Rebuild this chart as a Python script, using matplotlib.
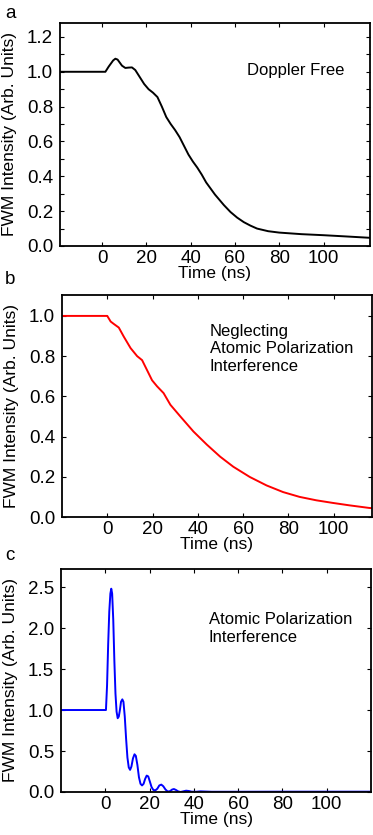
import matplotlib
matplotlib.use('Agg')
import matplotlib.pyplot as plt
from matplotlib.ticker import MultipleLocator, FormatStrFormatter

plt.rcParams['font.family'] = ['Liberation Sans', 'DejaVu Sans']

# panel a: Doppler free (black)
t_a = [-20, 0, 1.5, 3, 5, 6, 7, 9, 10.5, 12, 13.5, 15, 17, 19, 21, 23, 25, 27, 29,
       31, 33, 35, 37, 39, 41, 43, 45, 47, 49, 51, 53, 55, 58, 61, 64, 67, 70, 75,
       80, 90, 100, 110, 121]
i_a = [1.0, 1.0, 1.0, 1.03, 1.065, 1.075, 1.07, 1.035, 1.022, 1.024, 1.025, 1.01,
       0.97, 0.93, 0.9, 0.88, 0.855, 0.8, 0.74, 0.7, 0.665, 0.625, 0.575, 0.525,
       0.485, 0.45, 0.41, 0.365, 0.33, 0.295, 0.265, 0.235, 0.195, 0.163, 0.137, 0.117,
       0.1, 0.085, 0.077, 0.068, 0.062, 0.055, 0.047]

# panel b: neglecting atomic polarization interference (red)
t_b = [-20, 0, 1.5, 2.9, 5.1, 7.3, 10.3, 13.2, 15.4, 17.6, 19.8, 22, 24.9, 27.9,
       32.3, 38.1, 44, 49.9, 55.7, 63, 70.4, 77.7, 85, 92.4, 99.7, 107, 115.8, 117]
i_b = [1.0, 1.0, 0.972, 0.96, 0.942, 0.897, 0.84, 0.8, 0.78, 0.73, 0.68, 0.65,
       0.616, 0.558, 0.5, 0.425, 0.36, 0.3, 0.25, 0.199, 0.157, 0.124, 0.1, 0.083,
       0.07, 0.058, 0.045, 0.044]

# panel c: atomic polarization interference (blue)
t_c = [-20, 0.3, 0.8, 1.3, 1.8, 2.3, 2.7, 3.1, 3.6, 4.1, 4.6, 5.1, 5.6, 6.1, 6.6,
       7.1, 7.7, 8.2, 8.8, 9.4, 10.0, 10.6, 11.2, 11.8, 12.5, 13.2, 13.8, 14.5,
       15.2, 15.9, 16.6, 17.3, 18.0, 18.7, 19.4, 20.1, 20.9, 21.7, 22.6, 23.5,
       24.4, 25.3, 26.2, 27.2, 28.2, 29.2, 30.2, 31.0, 31.9, 32.9, 34.0, 35.2,
       36.5, 37.8, 39, 41, 43, 45, 48, 60, 80, 120]
i_c = [1.0, 1.0, 1.3, 1.8, 2.2, 2.42, 2.48, 2.42, 2.1, 1.6, 1.2, 0.98, 0.9, 0.92,
       1.0, 1.1, 1.13, 1.1, 0.92, 0.65, 0.42, 0.3, 0.27, 0.31, 0.41, 0.46, 0.44,
       0.33, 0.18, 0.1, 0.08, 0.1, 0.16, 0.2, 0.19, 0.13, 0.06, 0.025, 0.02, 0.04,
       0.08, 0.09, 0.07, 0.03, 0.006, 0.01, 0.03, 0.036, 0.025, 0.008, 0.0, 0.008,
       0.016, 0.012, 0.004, 0.003, 0.008, 0.006, 0.003, 0.003, 0.004, 0.004]

x_ticks = [0, 20, 40, 60, 80, 100]

W, H = 373, 835
fig = plt.figure(figsize=(W / 100, H / 100), dpi=100)

def add_axes(left, right, top, bottom):
    return fig.add_axes([left / W, 1 - bottom / H, (right - left) / W, (bottom - top) / H])

panels = [
    dict(box=(60, 370, 23, 246), t=t_a, i=i_a, color='black', xlim=(-19, 121),
         ylim=(0, 1.28), ymaj=0.2, ymin=0.1,
         text='Doppler Free', tpos=(0.603, 0.785), label='a', lpos=(10, 13)),
    dict(box=(62, 372, 295, 517), t=t_b, i=i_b, color='red', xlim=(-20, 117),
         ylim=(0, 1.104), ymaj=0.2, ymin=None,
         text='Neglecting\nAtomic Polarization\nInterference', tpos=(0.477, 0.757),
         label='b', lpos=(10, 280)),
    dict(box=(61, 371, 569, 792), t=t_c, i=i_c, color='blue', xlim=(-20, 120),
         ylim=(0, 2.72), ymaj=0.5, ymin=None,
         text='Atomic Polarization\nInterference', tpos=(0.477, 0.733),
         label='c', lpos=(10, 556)),
]

for p in panels:
    ax = add_axes(*p['box'])
    ax.plot(p['t'], p['i'], color=p['color'], lw=1.4)
    ax.set_xlim(*p['xlim'])
    ax.set_ylim(*p['ylim'])
    ax.set_xticks(x_ticks)
    ax.yaxis.set_major_locator(MultipleLocator(p['ymaj']))
    if p['ymin']:
        ax.yaxis.set_minor_locator(MultipleLocator(p['ymin']))
    ax.yaxis.set_major_formatter(FormatStrFormatter('%.1f'))
    ax.tick_params(which='both', direction='in', top=True, right=True,
                   length=3, width=0.8, labelsize=13.5)
    ax.tick_params(axis='y', pad=5)
    ax.tick_params(axis='x', pad=3)
    for s in ax.spines.values():
        s.set_linewidth(1.3)
    ax.set_xlabel('Time (ns)', fontsize=12.5, labelpad=-1)
    ax.set_ylabel('FWM Intensity (Arb. Units)', fontsize=12.5, labelpad=7)
    ax.text(p['tpos'][0], p['tpos'][1], p['text'], transform=ax.transAxes,
            fontsize=12, va='center', ha='left', linespacing=1.2)
    fig.text(p['lpos'][0] / W, 1 - p['lpos'][1] / H, p['label'], fontsize=13.5,
             ha='center', va='center')

fig.savefig('out.png', dpi=100)
